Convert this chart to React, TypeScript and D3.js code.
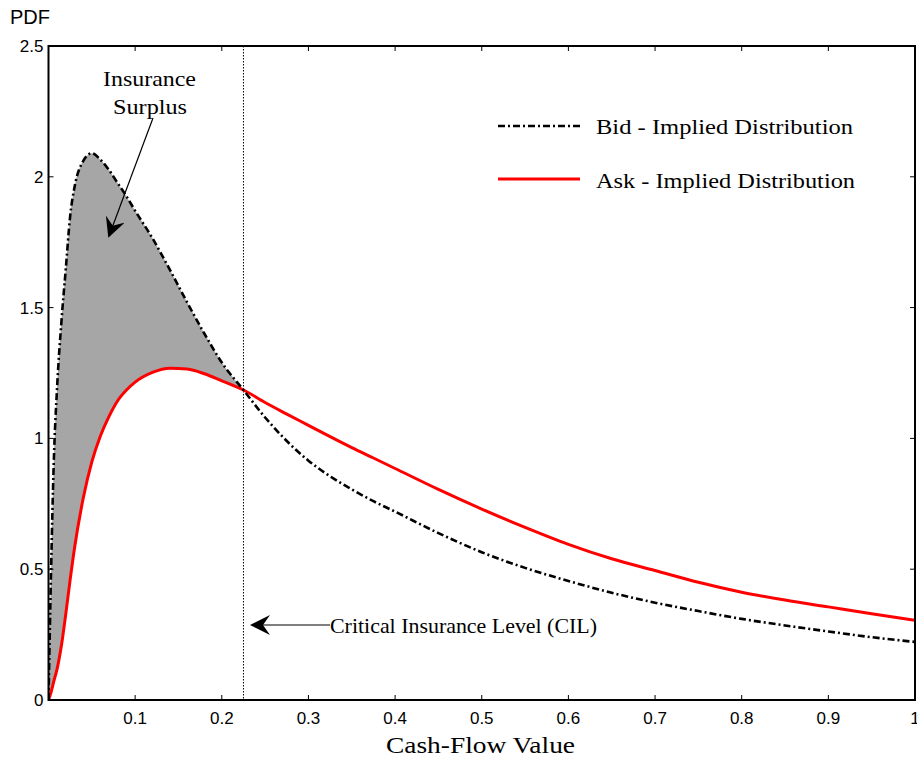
import React from "react";
import * as d3 from "d3";

const cashFlow = [0, 0.003, 0.006, 0.01, 0.015, 0.02, 0.025, 0.03, 0.04, 0.05, 0.06, 0.07, 0.08, 0.09, 0.1, 0.12, 0.14, 0.16, 0.18, 0.2, 0.225, 0.25, 0.275, 0.3, 0.325, 0.35, 0.375, 0.4, 0.45, 0.5, 0.55, 0.6, 0.65, 0.7, 0.75, 0.8, 0.85, 0.9, 0.95, 1.0];
const bidPdf = [0, 0.5, 0.9, 1.2, 1.45, 1.65, 1.85, 1.96, 2.06, 2.09, 2.065, 2.025, 1.975, 1.925, 1.87, 1.765, 1.645, 1.52, 1.4, 1.29, 1.185, 1.08, 0.99, 0.915, 0.855, 0.805, 0.76, 0.72, 0.638, 0.565, 0.505, 0.455, 0.41, 0.372, 0.34, 0.31, 0.285, 0.262, 0.24, 0.222];
const askPdf = [0, 0.03, 0.07, 0.12, 0.21, 0.33, 0.46, 0.58, 0.77, 0.91, 1.01, 1.085, 1.145, 1.185, 1.215, 1.252, 1.268, 1.265, 1.247, 1.22, 1.185, 1.137, 1.093, 1.05, 1.007, 0.965, 0.925, 0.885, 0.805, 0.73, 0.66, 0.595, 0.54, 0.495, 0.45, 0.412, 0.382, 0.356, 0.33, 0.305];
const xTicks = [0.1, 0.2, 0.3, 0.4, 0.5, 0.6, 0.7, 0.8, 0.9, 1];
const yTicks = [0, 0.5, 1, 1.5, 2, 2.5];
const cil = 0.225;
const legendLabels = ["Bid - Implied Distribution", "Ask - Implied Distribution"];

const W = 917, H = 759;
const L = 48.5, R = 915, T = 46, B = 700;
const serif = "'Liberation Serif', 'Times New Roman', serif";
const sans = "'Liberation Sans', Arial, sans-serif";

export default function App() {
  const x = d3.scaleLinear().domain([0, 1]).range([L, R]);
  const y = d3.scaleLinear().domain([0, 2.5]).range([B, T]);
  const pts = cashFlow.map((c, i) => ({ c, b: bidPdf[i], a: askPdf[i] }));
  const bidLine = d3.line<any>().x(d => x(d.c)).y(d => y(d.b)).curve(d3.curveMonotoneX);
  const askLine = d3.line<any>().x(d => x(d.c)).y(d => y(d.a)).curve(d3.curveMonotoneX);
  const area = d3.area<any>().x(d => x(d.c)).y0(d => y(d.a)).y1(d => y(d.b)).curve(d3.curveMonotoneX);
  const surplus = pts.filter(p => p.c <= cil + 1e-9);
  const tickLen = 5;
  return (
    <div style={{ position: "absolute", left: 0, top: 0 }}>
      <svg width={W} height={H} viewBox={`0 0 ${W} ${H}`} style={{ display: "block", background: "#fff" }}>
        <defs>
          <marker id="ah2" viewBox="0 0 10 10" refX="9" refY="5" markerWidth="20" markerHeight="20" orient="auto" markerUnits="userSpaceOnUse">
            <path d="M0,0 L10,5 L0,10 L3.5,5 Z" fill="#000" />
          </marker>
          <clipPath id="clip"><rect x={L} y={T} width={R - L} height={B - T} /></clipPath>
        </defs>
        <g clipPath="url(#clip)">
          <path d={area(surplus) || ""} fill="#a6a6a6" stroke="none" />
          <line x1={x(cil)} x2={x(cil)} y1={T} y2={B} stroke="#000" strokeWidth={1} strokeDasharray="1.5,1.5" />
          <path d={askLine(pts) || ""} fill="none" stroke="#ff0000" strokeWidth={3} />
          <path d={bidLine(pts) || ""} fill="none" stroke="#000" strokeWidth={2.6} strokeDasharray="7,3,2,3" />
        </g>
        <rect x={L} y={T} width={R - L} height={B - T} fill="none" stroke="#000" strokeWidth={2} />
        {xTicks.map(t => (
          <g key={"x" + t}>
            <line x1={x(t)} x2={x(t)} y1={B} y2={B - tickLen} stroke="#000" strokeWidth={1} />
            <line x1={x(t)} x2={x(t)} y1={T} y2={T + tickLen} stroke="#000" strokeWidth={1} />
            <text x={x(t)} y={B + 24} textAnchor="middle" fontFamily={sans} fontSize={17}>{t}</text>
          </g>
        ))}
        {yTicks.map(t => (
          <g key={"y" + t}>
            <line x1={L} x2={L + tickLen} y1={y(t)} y2={y(t)} stroke="#000" strokeWidth={1} />
            <line x1={R} x2={R - tickLen} y1={y(t)} y2={y(t)} stroke="#000" strokeWidth={1} />
            <text x={L - 5} y={y(t) + 6} textAnchor="end" fontFamily={sans} fontSize={17}>{t}</text>
          </g>
        ))}
        <text x={10} y={24} fontFamily={sans} fontSize={20}>PDF</text>
        <text x={386} y={753} fontFamily={serif} fontSize={24} textLength={189} lengthAdjust="spacingAndGlyphs">Cash-Flow Value</text>
        <line x1={498} x2={580} y1={126} y2={126} stroke="#000" strokeWidth={2.6} strokeDasharray="7,3,2,3" />
        <text x={596} y={134} fontFamily={serif} fontSize={22} textLength={257} lengthAdjust="spacingAndGlyphs">{legendLabels[0]}</text>
        <line x1={498} x2={580} y1={179} y2={179} stroke="#ff0000" strokeWidth={3} />
        <text x={596} y={188} fontFamily={serif} fontSize={22} textLength={259} lengthAdjust="spacingAndGlyphs">{legendLabels[1]}</text>
        <text x={103} y={86} fontFamily={serif} fontSize={22} textLength={93} lengthAdjust="spacingAndGlyphs">Insurance</text>
        <text x={113} y={114} fontFamily={serif} fontSize={22} textLength={74} lengthAdjust="spacingAndGlyphs">Surplus</text>
        <line x1={153} y1={118} x2={109} y2={236} stroke="#000" strokeWidth={1.2} markerEnd="url(#ah2)" />
        <line x1={330} y1={625} x2={252} y2={625} stroke="#000" strokeWidth={1.2} markerEnd="url(#ah2)" />
        <text x={330} y={633} fontFamily={serif} fontSize={22} textLength={267} lengthAdjust="spacingAndGlyphs">Critical Insurance Level (CIL)</text>
      </svg>
    </div>
  );
}
